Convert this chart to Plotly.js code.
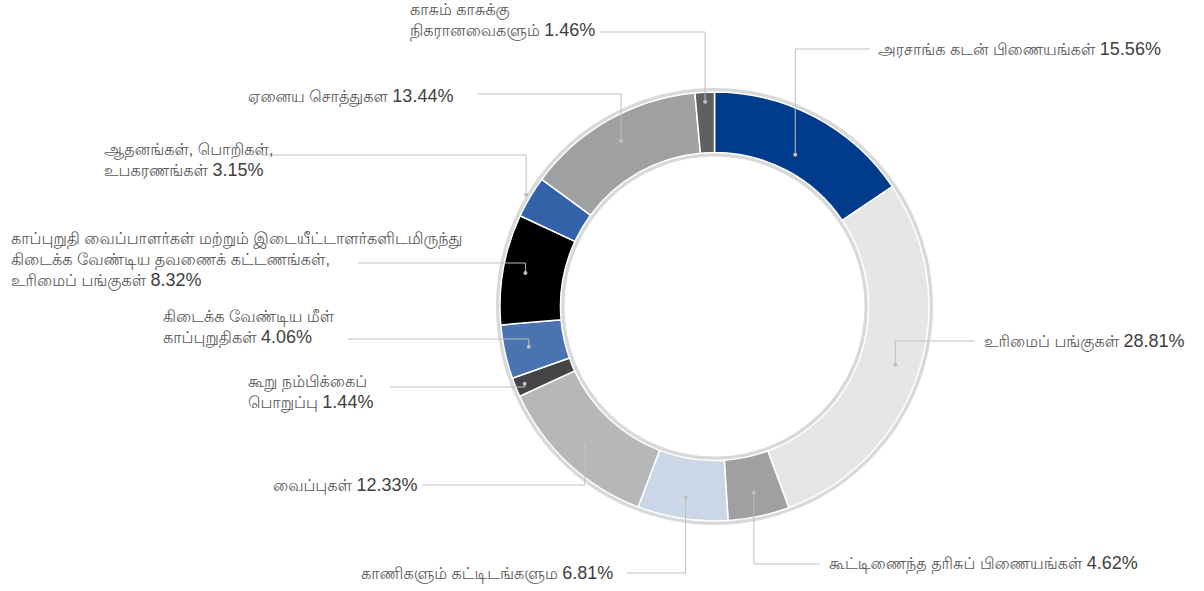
<!DOCTYPE html>
<html>
<head>
<meta charset="utf-8">
<script src="https://cdn.plot.ly/plotly-3.0.1.min.js"></script>
<style>html,body{margin:0;padding:0;background:#fff;}#chart{width:1204px;height:591px;}</style>
</head>
<body>
<div id="chart"></div>
<script>
// ---- data ----
var categories = [
  "அரசாங்க கடன் பிணையங்கள்",
  "உரிமைப் பங்குகள்",
  "கூட்டிணைந்த தரிசுப் பிணையங்கள்",
  "காணிகளும் கட்டிடங்களும",
  "வைப்புகள்",
  "கூறு நம்பிக்கைப்<br>பொறுப்பு",
  "கிடைக்க வேண்டிய மீள்<br>காப்புறுதிகள்",
  "காப்புறுதி வைப்பாளர்கள் மற்றும் இடையீட்டாளர்களிடமிருந்து<br>கிடைக்க வேண்டிய தவணைக் கட்டணங்கள்,<br>உரிமைப் பங்குகள்",
  "ஆதனங்கள், பொறிகள்,<br>உபகரணங்கள்",
  "ஏனைய சொத்துகள",
  "காசும் காசுக்கு<br>நிகரானவைகளும்"
];
var values = [15.56, 28.81, 4.62, 6.81, 12.33, 1.44, 4.06, 8.32, 3.15, 13.44, 1.46];
var colors = ["#003B8C", "#E6E6E6", "#9FA0A2", "#CBD7E7", "#B6B7B9", "#444446",
              "#4A74B0", "#000000", "#3462A8", "#9FA0A2", "#5F6062"];

// ---- layout config (pixels) ----
var W = 1204, H = 591;
var CX = 714.5, CY = 306.5;
var R_OUT = 218.5, R_SLICE = 214.5, R_IN_SLICE = 154, R_IN = 150;
// label placement: [textX, textY, xanchor, lineEndX, lineEndY, anchorRadius]
var labelPos = [
  [876, 49, "left", 870, 49, 172],
  [982, 341, "left", 975, 341, 190],
  [827, 564, "left", 820, 564, 190],
  [615, 573, "right", 627, 573, 193],
  [419, 485, "right", 422, 485, 190],
  [246, 393, "left", 390, 387, 205],
  [161, 328, "left", 348, 339, 190],
  [9, 260, "left", 358, 263, 192],
  [102, 161, "left", 262, 155, 219],
  [246, 97, "left", 478, 94, 190],
  [408, 22, "left", 600, 32, 205]
];

function px(x){ return x / W; }
function py(y){ return 1 - y / H; }
function dom(r){ return {x:[px(CX - r), px(CX + r)], y:[py(CY + r), py(CY - r)]}; }

var traces = [
  {type:"pie", values:[1], marker:{colors:["#D9D9D9"], line:{width:0}}, hole:R_IN/R_OUT,
   domain:dom(R_OUT), textinfo:"none", hoverinfo:"skip", sort:false, showlegend:false},
  {type:"pie", values:values, labels:categories.map(function(c){return c.replace(/<br>/g," ");}),
   marker:{colors:colors, line:{color:"#FFFFFF", width:1.5}},
   hole:R_IN_SLICE/R_SLICE, domain:dom(R_SLICE), textinfo:"none", hoverinfo:"label+percent",
   sort:false, direction:"clockwise", rotation:0, showlegend:false}
];

var total = values.reduce(function(a,b){return a+b;},0);
var shapes = [], annotations = [];
var cum = 0;
for (var i = 0; i < values.length; i++) {
  var mid = (cum + values[i]/2) / total * 2 * Math.PI;
  cum += values[i];
  var p = labelPos[i];
  var r = p[5];
  var dx = CX + r * Math.sin(mid), dy = CY - r * Math.cos(mid);
  var lineStyle = {color:"#BFBFBF", width:1};
  shapes.push({type:"line", xref:"paper", yref:"paper", x0:px(dx), y0:py(dy), x1:px(dx), y1:py(p[4]), line:lineStyle});
  shapes.push({type:"line", xref:"paper", yref:"paper", x0:px(dx), y0:py(p[4]), x1:px(p[3]), y1:py(p[4]), line:lineStyle});
  shapes.push({type:"circle", xref:"paper", yref:"paper", x0:px(dx-2), x1:px(dx+2), y0:py(dy+2), y1:py(dy-2),
               fillcolor:"#BFBFBF", line:{width:0}});
  annotations.push({
    xref:"paper", yref:"paper", x:px(p[0]), y:py(p[1]), xanchor:p[2], yanchor:"middle",
    align:"left", showarrow:false,
    text: categories[i] + " <span style='font-size:18px;color:#404040'>" + values[i].toFixed(2) + "%</span>",
    font:{family:"'Liberation Sans', 'Lohit Tamil', sans-serif", size:16, color:"#595959"}
  });
}

var layout = {
  width:W, height:H, margin:{l:0, r:0, t:0, b:0},
  paper_bgcolor:"#FFFFFF", showlegend:false,
  shapes:shapes, annotations:annotations
};
Plotly.newPlot("chart", traces, layout, {displayModeBar:false});
</script>
</body>
</html>
